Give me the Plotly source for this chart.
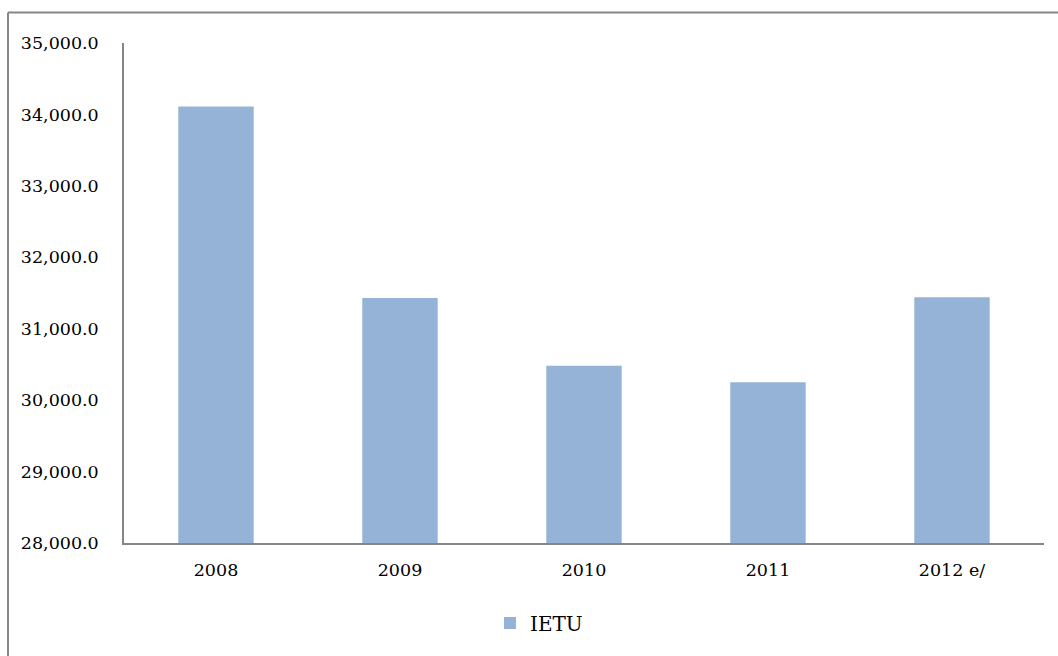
import plotly.graph_objects as go

# IETU collection by year (2012 is an estimate)
years = ["2008", "2009", "2010", "2011", "2012 e/"]
ietu = [34110, 31430, 30480, 30250, 31440]

W, H = 1058, 656
L, R, T, B = 124, 14, 43, 113
pw, ph = W - L - R, H - T - B

def px_x(px):
    return (px - L) / pw

def px_y(py):
    return (H - B - py) / ph

font_family = "DejaVu Serif"

fig = go.Figure(
    go.Bar(
        x=years,
        y=ietu,
        name="IETU",
        marker=dict(color="#95B3D7", line=dict(width=0)),
    )
)

fig.update_layout(
    width=W,
    height=H,
    margin=dict(l=L, r=R, t=T, b=B),
    paper_bgcolor="white",
    plot_bgcolor="white",
    bargap=0.59,
    font=dict(family=font_family, size=17.5, color="#000000"),
    showlegend=True,
    legend=dict(
        orientation="h",
        x=px_x(490),
        xanchor="left",
        y=px_y(623),
        yanchor="middle",
        font=dict(family=font_family, size=20, color="#000000"),
        itemwidth=30,
        bgcolor="rgba(0,0,0,0)",
    ),
    xaxis=dict(
        showline=True,
        linecolor="#868686",
        linewidth=1.5,
        showgrid=False,
        ticks="",
        ticklabelstandoff=10,
        tickfont=dict(family=font_family, size=17.5),
    ),
    yaxis=dict(
        range=[28000, 35000],
        dtick=1000,
        tickformat=",.1f",
        showline=True,
        linecolor="#868686",
        linewidth=1.5,
        showgrid=False,
        zeroline=False,
        ticks="",
        ticklabelstandoff=20,
        tickfont=dict(family=font_family, size=17.5),
    ),
    shapes=[
        # chart frame (top and left edges visible)
        dict(type="line", xref="paper", yref="paper",
             x0=px_x(8), x1=px_x(1070), y0=px_y(12.5), y1=px_y(12.5),
             line=dict(color="#878787", width=2)),
        dict(type="line", xref="paper", yref="paper",
             x0=px_x(8), x1=px_x(8), y0=px_y(12.5), y1=px_y(670),
             line=dict(color="#878787", width=2)),
    ],
)

fig.write_html("out.html")
